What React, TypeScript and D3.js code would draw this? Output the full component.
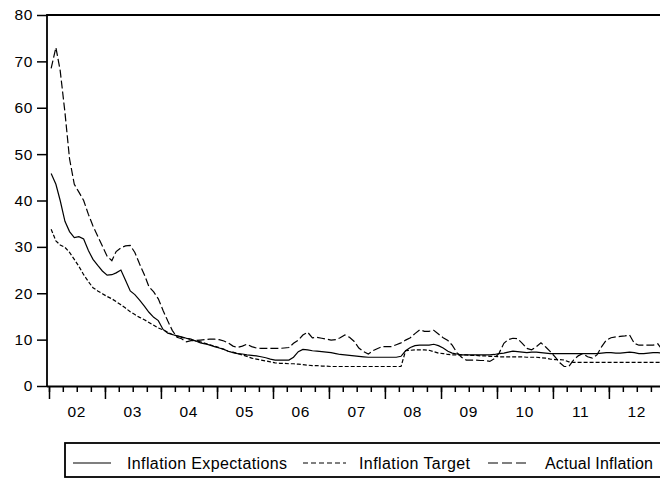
import React, { useEffect, useRef } from "react";
import * as d3 from "d3";

// monthly data, Jan 2002 .. Dec 2012
const yearLabels = ["02", "03", "04", "05", "06", "07", "08", "09", "10", "11", "12"];
const seriesNames = ["Inflation Expectations", "Inflation Target", "Actual Inflation"];

const expectations = [
  45.8, 43.5, 40.0, 35.5, 33.3, 32.0, 32.2, 31.7, 29.2, 27.3,
  26.0, 24.8, 23.9, 24.0, 24.4, 25.0, 22.8, 20.5, 19.7, 18.5,
  17.2, 15.9, 14.8, 14.1, 12.2, 11.4, 11.1, 10.8, 10.6, 10.3,
  10.1, 9.7, 9.3, 9.1, 8.8, 8.5, 8.2, 7.9, 7.5, 7.2,
  7.0, 6.9, 6.7, 6.6, 6.5, 6.3, 6.1, 5.8, 5.6, 5.6,
  5.6, 5.6, 6.2, 7.4, 7.9, 7.8, 7.6, 7.5, 7.4, 7.3,
  7.2, 7.0, 6.8, 6.7, 6.6, 6.5, 6.4, 6.3, 6.2, 6.2,
  6.2, 6.2, 6.2, 6.2, 6.2, 6.4, 7.6, 8.3, 8.7, 8.8,
  8.8, 8.8, 9.0, 8.7, 8.2, 7.5, 7.1, 6.9, 6.7, 6.7,
  6.7, 6.7, 6.7, 6.7, 6.7, 6.8, 7.0, 7.1, 7.3, 7.5,
  7.4, 7.3, 7.2, 7.3, 7.3, 7.2, 7.1, 7.0, 7.0, 7.0,
  7.0, 7.0, 7.0, 7.0, 7.0, 7.0, 7.0, 7.0, 7.1, 7.2,
  7.2, 7.1, 7.1, 7.2, 7.3, 7.2, 7.0, 7.0, 7.1, 7.2,
  7.2, 7.1,
];

const target = [
  33.8, 31.3, 30.4, 29.9, 28.8, 27.3, 25.8, 24.0, 22.5, 21.2,
  20.5, 19.9, 19.3, 18.8, 18.2, 17.5, 16.8, 16.0, 15.4, 14.8,
  14.3, 13.7, 13.1, 12.5, 12.1, 11.6, 11.1, 10.8, 10.5, 10.3,
  10.0, 9.7, 9.5, 9.2, 8.9, 8.6, 8.3, 7.9, 7.5, 7.3,
  7.0, 6.7, 6.4, 6.0, 5.8, 5.6, 5.4, 5.2, 5.0, 4.9,
  4.9, 4.8, 4.8, 4.7, 4.6, 4.5, 4.4, 4.4, 4.3, 4.3,
  4.2, 4.2, 4.2, 4.2, 4.2, 4.2, 4.2, 4.2, 4.2, 4.2,
  4.2, 4.2, 4.2, 4.2, 4.2, 4.2, 7.6, 7.7, 7.8, 7.8,
  7.8, 7.7, 7.4, 7.1, 7.0, 6.8, 6.7, 6.7, 6.7, 6.7,
  6.6, 6.6, 6.5, 6.5, 6.4, 6.4, 6.3, 6.3, 6.3, 6.3,
  6.3, 6.3, 6.2, 6.2, 6.2, 6.1, 6.0, 5.8, 5.7, 5.7,
  5.6, 5.2, 5.1, 5.1, 5.1, 5.1, 5.1, 5.1, 5.1, 5.1,
  5.1, 5.1, 5.1, 5.1, 5.1, 5.1, 5.1, 5.1, 5.1, 5.1,
  5.1, 5.1,
];

const actual = [
  68.5, 73.0, 68.0, 59.0, 49.0, 43.5, 41.8, 40.0, 37.0, 34.5,
  32.3, 30.2, 28.0, 27.0, 29.0, 29.8, 30.2, 30.3, 28.8, 26.3,
  24.0, 21.4, 20.3, 18.8, 16.3, 14.0, 12.0, 10.5, 10.2, 9.5,
  9.8, 9.8, 9.9, 10.0, 10.1, 10.1, 10.0, 9.7, 9.3, 8.6,
  8.3, 8.6, 9.0, 8.5, 8.2, 8.1, 8.1, 8.1, 8.1, 8.1,
  8.2, 8.3, 9.2, 9.9, 11.0, 11.6, 10.4, 10.5, 10.3, 10.1,
  9.9, 10.0, 10.4, 11.0, 10.5, 9.6, 8.2, 7.4, 6.9, 7.6,
  8.1, 8.5, 8.5, 8.5, 8.9, 9.3, 9.9, 10.4, 11.3, 12.1,
  11.8, 11.8, 12.0, 11.2, 10.4, 9.8, 8.8, 7.2, 6.2, 5.6,
  5.6, 5.6, 5.5, 5.5, 5.3, 5.9, 7.1, 9.2, 10.0, 10.3,
  10.2, 9.2, 8.1, 7.8, 8.5, 9.3, 8.4, 7.4, 6.3, 5.0,
  4.2, 4.2, 5.6, 6.5, 7.0, 6.3, 6.0, 6.7, 8.5, 9.9,
  10.4, 10.6, 10.7, 10.8, 11.0, 9.2, 8.8, 8.8, 8.8, 8.8,
  9.1, 7.8,
];

const font = "'Liberation Sans', Arial, sans-serif";

export default function App() {
  const ref = useRef<SVGSVGElement>(null);

  useEffect(() => {
    const svg = d3.select(ref.current);
    svg.selectAll("*").remove();

    const x = d3
      .scaleTime()
      .domain([new Date(2002, 0, 1), new Date(2013, 0, 1)])
      .range([49, 665]);
    const y = d3.scaleLinear().domain([0, 80]).range([386, 15]);
    const months = expectations.map((_, i) => new Date(2002, i, 15));

    // frame (top border + left axis)
    svg
      .append("path")
      .attr("d", `M47,387V15H665`)
      .attr("fill", "none")
      .attr("stroke", "#000")
      .attr("stroke-width", 1.8);

    // y axis
    const yAxis = svg
      .append("g")
      .attr("transform", "translate(47,0)")
      .call(
        d3
          .axisLeft(y)
          .tickValues(d3.range(0, 81, 10))
          .tickSize(10)
          .tickSizeOuter(0)
          .tickPadding(4)
      );
    yAxis.select(".domain").remove();
    yAxis.selectAll("line").attr("stroke", "#000").attr("stroke-width", 1.5);
    yAxis
      .selectAll("text")
      .attr("font-family", font)
      .attr("font-size", 15.5)
      .attr("letter-spacing", 0.6)
      .attr("fill", "#000");

    // x axis: quarterly minor, yearly major ticks
    const quarters = d3.timeMonth.range(new Date(2002, 0, 1), new Date(2013, 1, 1), 3);
    const minor = svg
      .append("g")
      .attr("transform", "translate(0,386)")
      .call(d3.axisBottom(x).tickValues(quarters).tickSize(6).tickSizeOuter(0).tickFormat(() => ""));
    minor.select(".domain").remove();
    minor.selectAll("line").attr("stroke", "#000").attr("stroke-width", 1.5);

    const years = d3.timeYear.range(new Date(2002, 0, 1), new Date(2013, 1, 1));
    const major = svg
      .append("g")
      .attr("transform", "translate(0,386)")
      .call(d3.axisBottom(x).tickValues(years).tickSize(13).tickSizeOuter(0).tickFormat(() => ""));
    major.select(".domain").remove();
    major.selectAll("line").attr("stroke", "#000").attr("stroke-width", 1.5);

    svg
      .append("line")
      .attr("x1", 47)
      .attr("x2", 665)
      .attr("y1", 386.5)
      .attr("y2", 386.5)
      .attr("stroke", "#000")
      .attr("stroke-width", 2);

    svg
      .append("g")
      .selectAll("text")
      .data(yearLabels)
      .enter()
      .append("text")
      .attr("x", (d, i) => x(new Date(2002 + i, 6, 1)))
      .attr("y", 417)
      .attr("text-anchor", "middle")
      .attr("font-family", font)
      .attr("font-size", 15.5)
      .attr("letter-spacing", 0.6)
      .text((d) => d);

    // series
    const line = d3
      .line<number>()
      .x((d, i) => x(months[i]))
      .y((d) => y(d));

    const styles = [
      { data: expectations, dash: null },
      { data: target, dash: "4,2" },
      { data: actual, dash: "8,3" },
    ];
    styles.forEach((s) => {
      svg
        .append("path")
        .attr("d", line(s.data))
        .attr("fill", "none")
        .attr("stroke", "#000")
        .attr("stroke-width", 1.2)
        .attr("stroke-dasharray", s.dash);
    });

    // legend
    svg
      .append("rect")
      .attr("x", 65)
      .attr("y", 443)
      .attr("width", 620)
      .attr("height", 34)
      .attr("fill", "none")
      .attr("stroke", "#000")
      .attr("stroke-width", 1.8);

    const legendItems = [
      { x1: 73, x2: 111, tx: 127, tw: 160, dash: null },
      { x1: 303, x2: 346, tx: 359, tw: 111, dash: "5,3" },
      { x1: 488, x2: 528, tx: 545, tw: 108, dash: "10,4" },
    ];
    legendItems.forEach((l, i) => {
      svg
        .append("line")
        .attr("x1", l.x1)
        .attr("x2", l.x2)
        .attr("y1", 463)
        .attr("y2", 463)
        .attr("stroke", "#000")
        .attr("stroke-width", 1.1)
        .attr("stroke-dasharray", l.dash);
      svg
        .append("text")
        .attr("x", l.tx)
        .attr("y", 468.5)
        .attr("font-family", font)
        .attr("font-size", 16)
        .attr("textLength", l.tw)
        .attr("lengthAdjust", "spacing")
        .text(seriesNames[i]);
    });
  }, []);

  return (
    <svg
      ref={ref}
      width={660}
      height={479}
      style={{ position: "absolute", left: 0, top: 0, background: "#fff" }}
    />
  );
}
